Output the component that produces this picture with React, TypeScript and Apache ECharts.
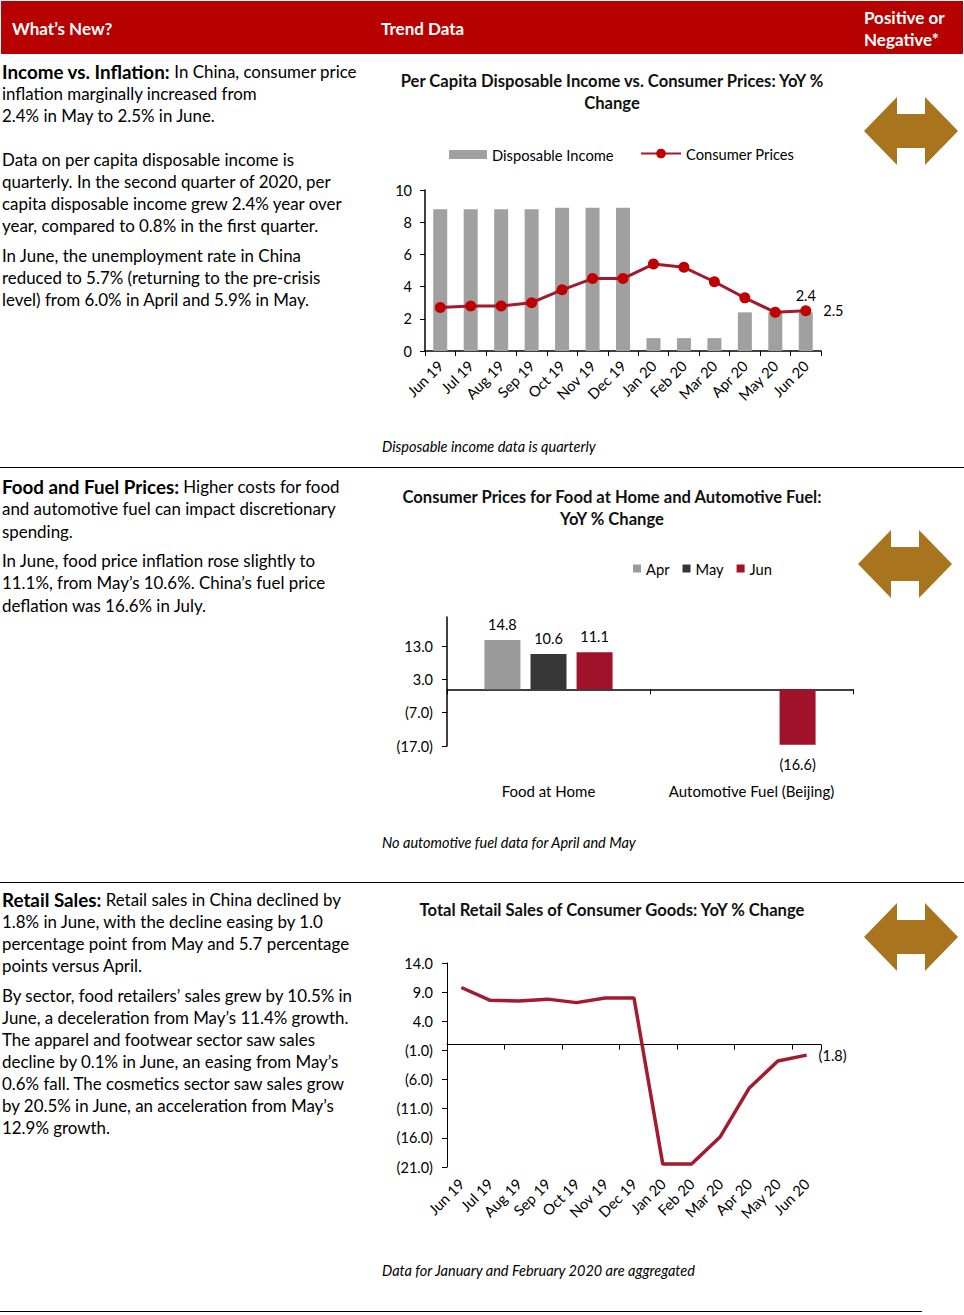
import React, { useEffect, useRef } from "react";
import * as echarts from "echarts";

// ---------- DATA ----------
const months = ["Jun 19", "Jul 19", "Aug 19", "Sep 19", "Oct 19", "Nov 19", "Dec 19", "Jan 20", "Feb 20", "Mar 20", "Apr 20", "May 20", "Jun 20"];
const disposableIncome = [8.8, 8.8, 8.8, 8.8, 8.9, 8.9, 8.9, 0.8, 0.8, 0.8, 2.4, 2.4, 2.4];
const consumerPrices = [2.7, 2.8, 2.8, 3.0, 3.8, 4.5, 4.5, 5.4, 5.2, 4.3, 3.3, 2.4, 2.5];
const y1Ticks = [0, 2, 4, 6, 8, 10];

const foodFuelCategories = ["Food at Home", "Automotive Fuel (Beijing)"];
const aprValues: (number | null)[] = [14.8, null];
const mayValues: (number | null)[] = [10.6, null];
const junValues: (number | null)[] = [11.1, -16.6];
const y2Ticks = [-17, -7, 3, 13];

const retailSales = [9.8, 7.6, 7.5, 7.8, 7.2, 8.0, 8.0, -20.5, -20.5, -15.8, -7.5, -2.8, -1.8];
const y3Ticks = [-21, -16, -11, -6, -1, 4, 9, 14];

// ---------- TEXT ----------
const FONT = 'Lato, "Open Sans", sans-serif';
type Line = { y: number; b?: string; t: string };
const textLines: Line[] = [
  { y: 71, b: "Income vs. Inflation:", t: " In China, consumer price" },
  { y: 93, t: "inflation marginally increased from" },
  { y: 115, t: "2.4% in May to 2.5% in June." },
  { y: 159, t: "Data on per capita disposable income is" },
  { y: 181, t: "quarterly. In the second quarter of 2020, per" },
  { y: 203, t: "capita disposable income grew 2.4% year over" },
  { y: 225, t: "year, compared to 0.8% in the first quarter." },
  { y: 255, t: "In June, the unemployment rate in China" },
  { y: 277, t: "reduced to 5.7% (returning to the pre-crisis" },
  { y: 299, t: "level) from 6.0% in April and 5.9% in May." },
  { y: 486, b: "Food and Fuel Prices:", t: " Higher costs for food" },
  { y: 508, t: "and automotive fuel can impact discretionary" },
  { y: 531, t: "spending." },
  { y: 560, t: "In June, food price inflation rose slightly to" },
  { y: 582, t: "11.1%, from May\u2019s 10.6%. China\u2019s fuel price" },
  { y: 605, t: "deflation was 16.6% in July." },
  { y: 899, b: "Retail Sales:", t: " Retail sales in China declined by" },
  { y: 921, t: "1.8% in June, with the decline easing by 1.0" },
  { y: 943, t: "percentage point from May and 5.7 percentage" },
  { y: 965, t: "points versus April." },
  { y: 995, t: "By sector, food retailers\u2019 sales grew by 10.5% in" },
  { y: 1017, t: "June, a deceleration from May\u2019s 11.4% growth." },
  { y: 1039, t: "The apparel and footwear sector saw sales" },
  { y: 1061, t: "decline by 0.1% in June, an easing from May\u2019s" },
  { y: 1083, t: "0.6% fall. The cosmetics sector saw sales grow" },
  { y: 1105, t: "by 20.5% in June, an acceleration from May\u2019s" },
  { y: 1127, t: "12.9% growth." },
];

const fmtParen = (v: number) => (v < 0 ? `(${Math.abs(v).toFixed(1)})` : v.toFixed(1));

function txt(x: number, y: number, text: string, font: string, align = "left", fill = "#000", rich?: any) {
  return {
    type: "text",
    x,
    y,
    style: {
      text,
      font,
      fill,
      align,
      textAlign: align,
      verticalAlign: "middle",
      textVerticalAlign: "middle",
      rich,
    },
  };
}

function arrow(cx: number, cy: number) {
  const pts = [
    [-47, 0], [-14, -34], [-14, -17], [14, -17], [14, -34], [47, 0], [14, 34], [14, 17], [-14, 17], [-14, 34],
  ].map(([x, y]) => [cx + x, cy + y]);
  return { type: "polygon", shape: { points: pts }, style: { fill: "#A8741E" } };
}

export default function App() {
  const ref = useRef<HTMLDivElement>(null);
  useEffect(() => {
    if (!ref.current) return;
    const chart = echarts.init(ref.current, undefined, { renderer: "svg" });

    const HB = `bold 17px ${FONT}`;
    const TB = `bold 16.6px ${FONT}`;
    const FI = `italic 14.5px ${FONT}`;
    const graphics: any[] = [
      { type: "rect", shape: { x: 1, y: 1, width: 962, height: 53 }, style: { fill: "#B70000" } },
      txt(12, 28, "What\u2019s New?", HB, "left", "#fff"),
      txt(381, 28, "Trend Data", HB, "left", "#fff"),
      txt(864, 17, "Positive or", HB, "left", "#fff"),
      txt(864, 39, "Negative*", HB, "left", "#fff"),
      { type: "line", shape: { x1: 0, y1: 467.5, x2: 964, y2: 467.5 }, style: { stroke: "#000", lineWidth: 1 } },
      { type: "line", shape: { x1: 0, y1: 882.5, x2: 964, y2: 882.5 }, style: { stroke: "#000", lineWidth: 1 } },
      { type: "line", shape: { x1: 0, y1: 1311.5, x2: 922, y2: 1311.5 }, style: { stroke: "#000", lineWidth: 1 } },
      txt(612, 81, "Per Capita Disposable Income vs. Consumer Prices: YoY %", TB, "center", "#111"),
      txt(612, 103, "Change", TB, "center", "#111"),
      txt(612, 497, "Consumer Prices for Food at Home and Automotive Fuel:", TB, "center", "#111"),
      txt(612, 519, "YoY % Change", TB, "center", "#111"),
      txt(612, 910, "Total Retail Sales of Consumer Goods: YoY % Change", TB, "center", "#111"),
      txt(382, 446, "Disposable income data is quarterly", FI),
      txt(382, 842, "No automotive fuel data for April and May", FI),
      txt(382, 1270, "Data for January and February 2020 are aggregated", FI),
      arrow(911, 131),
      arrow(905, 564),
      arrow(911, 937),
    ];
    textLines.forEach((l) => {
      const text = l.b ? `{b|${l.b}}${l.t}` : l.t;
      graphics.push(txt(2, l.y, text, `16.9px ${FONT}`, "left", "#000", { b: { font: `bold 18.8px ${FONT}`, fill: "#000" } }));
    });

    const axisLabelStyle = { color: "#000", fontFamily: FONT, fontSize: 14 };
    const lastIdx = months.length - 1;

    const barItem = (v: number | null) =>
      v === null
        ? null
        : {
            value: v,
            label: {
              show: true,
              position: v < 0 ? "bottom" : "top",
              distance: v < 0 ? 12 : 8,
              formatter: () => fmtParen(v),
              color: "#000",
              fontFamily: FONT,
              fontSize: 14.5,
            },
          };

    const legendText = { color: "#000", fontFamily: FONT, fontSize: 14.7 };

    chart.setOption({
      animation: false,
      graphic: graphics,
      legend: [
        {
          data: ["Disposable Income"],
          left: 449, top: 147, padding: 0,
          icon: "rect", itemWidth: 38, itemHeight: 9, itemGap: 5,
          textStyle: legendText,
        },
        {
          data: ["Consumer Prices"],
          left: 640, top: 146, padding: 0,
          itemWidth: 40, itemHeight: 12, itemGap: 5,
          textStyle: legendText,
        },
        {
          data: ["Apr", "May", "Jun"],
          left: 633, top: 561, padding: 0,
          icon: "rect", itemWidth: 8, itemHeight: 8, itemGap: 13,
          textStyle: legendText,
        },
      ],
      grid: [
        { left: 425, top: 190, width: 396, height: 161 },
        { left: 447, top: 617, width: 406, height: 129 },
        { left: 447, top: 963, width: 374, height: 204 },
      ],
      xAxis: [
        {
          gridIndex: 0, type: "category", data: months,
          axisLine: { lineStyle: { color: "#000", width: 1.5 } },
          axisTick: { show: true, length: 5, lineStyle: { color: "#000" } },
          axisLabel: { ...axisLabelStyle, fontSize: 14.8, rotate: 45, margin: 12, interval: 0 },
        },
        {
          gridIndex: 1, type: "category", data: foodFuelCategories,
          axisLine: { onZero: true, lineStyle: { color: "#000", width: 1.5 } },
          axisTick: { show: true, length: 5, lineStyle: { color: "#000" } },
          axisLabel: { ...axisLabelStyle, fontSize: 15, margin: 37, interval: 0 },
        },
        {
          gridIndex: 2, type: "category", data: months,
          axisLine: { onZero: true, lineStyle: { color: "#000", width: 1 } },
          axisTick: { show: true, length: 5, lineStyle: { color: "#000" } },
          axisLabel: { show: false },
        },
        {
          gridIndex: 2, type: "category", data: months, position: "bottom",
          axisLine: { show: false, onZero: false },
          axisTick: { show: false },
          axisLabel: { ...axisLabelStyle, fontSize: 14.8, rotate: 45, margin: 14, interval: 0 },
        },
      ],
      yAxis: [
        {
          gridIndex: 0, type: "value", min: 0, max: 10, interval: 2,
          splitLine: { show: false },
          axisLine: { show: true, lineStyle: { color: "#000", width: 1.5 } },
          axisTick: { show: true, length: 5, lineStyle: { color: "#000" }, customValues: y1Ticks },
          axisLabel: { ...axisLabelStyle, fontSize: 14.5, margin: 13, customValues: y1Ticks },
        },
        {
          gridIndex: 1, type: "value", min: -17, max: 21.7,
          splitLine: { show: false },
          axisLine: { show: true, lineStyle: { color: "#000", width: 1.5 } },
          axisTick: { show: true, length: 5, lineStyle: { color: "#000" }, customValues: y2Ticks },
          axisLabel: { ...axisLabelStyle, fontSize: 14.5, margin: 14, customValues: y2Ticks, formatter: (v: number) => fmtParen(v) },
        },
        {
          gridIndex: 2, type: "value", min: -21, max: 14,
          splitLine: { show: false },
          axisLine: { show: true, lineStyle: { color: "#000", width: 1 } },
          axisTick: { show: true, length: 5, lineStyle: { color: "#000" }, customValues: y3Ticks },
          axisLabel: { ...axisLabelStyle, fontSize: 14.5, margin: 14, customValues: y3Ticks, formatter: (v: number) => fmtParen(v) },
        },
      ],
      series: [
        {
          name: "Disposable Income", type: "bar", xAxisIndex: 0, yAxisIndex: 0,
          barWidth: 14, itemStyle: { color: "#A0A0A0" },
          data: disposableIncome.map((v, i) =>
            i === lastIdx
              ? { value: v, label: { show: true, position: "top", distance: 9, color: "#000", fontFamily: FONT, fontSize: 14.5, formatter: () => v.toFixed(1) } }
              : v
          ),
        },
        {
          name: "Consumer Prices", type: "line", xAxisIndex: 0, yAxisIndex: 0, z: 5,
          symbol: "circle", symbolSize: 11,
          itemStyle: { color: "#C00000" },
          lineStyle: { color: "#A3192E", width: 3 },
          data: consumerPrices.map((v, i) =>
            i === lastIdx
              ? { value: v, label: { show: true, position: "right", distance: 12, color: "#000", fontFamily: FONT, fontSize: 14.5, formatter: () => v.toFixed(1) } }
              : v
          ),
        },
        {
          name: "Apr", type: "bar", xAxisIndex: 1, yAxisIndex: 1, barWidth: 36, barGap: "28%",
          itemStyle: { color: "#9B9B9B" }, data: aprValues.map(barItem),
        },
        {
          name: "May", type: "bar", xAxisIndex: 1, yAxisIndex: 1, barWidth: 36, barGap: "28%",
          itemStyle: { color: "#363636" }, data: mayValues.map(barItem),
        },
        {
          name: "Jun", type: "bar", xAxisIndex: 1, yAxisIndex: 1, barWidth: 36, barGap: "28%",
          itemStyle: { color: "#A0122A" }, data: junValues.map(barItem),
        },
        {
          name: "Retail Sales", type: "line", xAxisIndex: 2, yAxisIndex: 2,
          symbol: "none", lineStyle: { color: "#A31B2E", width: 3.5 },
          endLabel: {
            show: true, distance: 12, color: "#000", fontFamily: FONT, fontSize: 14.5,
            formatter: (p: any) => fmtParen(Number(p.value)),
          },
          data: retailSales,
        },
      ],
    });
    return () => chart.dispose();
  }, []);

  return <div ref={ref} style={{ position: "absolute", left: 0, top: 0, width: 964, height: 1315 }} />;
}
